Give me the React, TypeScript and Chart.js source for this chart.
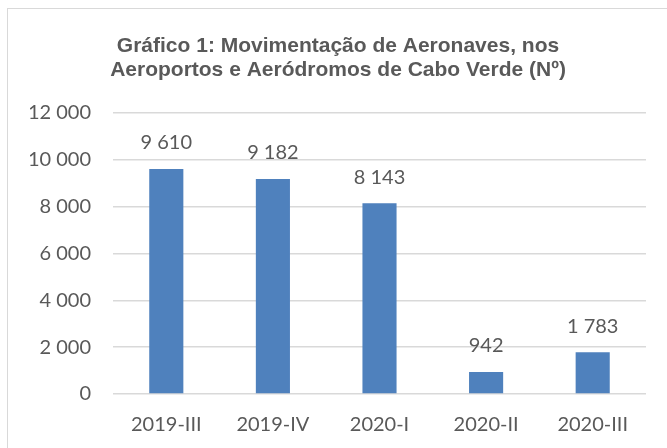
import React, { useEffect, useRef } from "react";
import { Chart, registerables } from "chart.js";

Chart.register(...registerables);

const categories: string[] = ["2019-III", "2019-IV", "2020-I", "2020-II", "2020-III"];
const movements: number[] = [9610, 9182, 8143, 942, 1783];
const titleLines: string[] = [
  "Gráfico 1: Movimentação de Aeronaves, nos",
  "Aeroportos e Aeródromos de Cabo Verde (Nº)",
];
const yMin = 0;
const yMax = 12000;
const yStep = 2000;

const fmt = (v: number): string =>
  Math.round(v)
    .toString()
    .replace(/\B(?=(\d{3})+(?!\d))/g, " ");

const TEXT = "#595959";
const FONT = "Lato, 'Open Sans', sans-serif";

const dataLabels = {
  id: "dataLabels",
  afterDatasetsDraw(chart: any) {
    const ctx = chart.ctx;
    const meta = chart.getDatasetMeta(0);
    const ds = chart.data.datasets[0];
    ctx.save();
    ctx.font = `20px ${FONT}`;
    ctx.fillStyle = TEXT;
    ctx.textAlign = "center";
    ctx.textBaseline = "middle";
    meta.data.forEach((bar: any, i: number) => {
      ctx.fillText(fmt(ds.data[i] as number), bar.x, bar.y - 26);
    });
    ctx.restore();
  },
};

export default function App() {
  const ref = useRef<HTMLCanvasElement | null>(null);

  useEffect(() => {
    if (!ref.current) return;
    const chart = new Chart(ref.current, {
      type: "bar",
      data: {
        labels: categories,
        datasets: [
          {
            data: movements,
            backgroundColor: "#4F81BD",
            borderWidth: 0,
            categoryPercentage: 1,
            barPercentage: 0.32,
          },
        ],
      },
      options: {
        animation: false,
        responsive: false,
        layout: { padding: { left: 30, right: 21, top: 0, bottom: 0 } },
        plugins: {
          legend: { display: false },
          tooltip: { enabled: false },
          title: {
            display: true,
            text: titleLines,
            color: TEXT,
            font: { family: "'Liberation Sans', Arial, sans-serif", size: 21, weight: "bold", lineHeight: "24px" },
            padding: { top: 34, bottom: 31 },
          },
        },
        scales: {
          x: {
            grid: { display: false, drawTicks: false },
            border: { display: false },
            ticks: { color: TEXT, font: { family: FONT, size: 20 }, padding: 19 },
            afterFit: (s: any) => {
              s.height = 54;
            },
          },
          y: {
            min: yMin,
            max: yMax,
            grid: { color: "#d9d9d9", lineWidth: 1.5, drawTicks: false },
            border: { display: false },
            ticks: {
              stepSize: yStep,
              color: TEXT,
              font: { family: FONT, size: 20 },
              padding: 22,
              callback: (v: any) => fmt(Number(v)),
            },
            afterFit: (s: any) => {
              s.width = 83;
            },
          },
        },
      },
      plugins: [dataLabels],
    });
    return () => chart.destroy();
  }, []);

  return (
    <div
      style={{
        position: "fixed",
        left: 0,
        top: 0,
        width: 667,
        height: 448,
        overflow: "hidden",
        background: "#fff",
      }}
    >
      <div
        style={{
          position: "absolute",
          left: 7,
          top: 8,
          width: 700,
          height: 500,
          border: "1.5px solid #d9d9d9",
          boxSizing: "border-box",
        }}
      />
      <canvas
        ref={ref}
        width={667}
        height={448}
        style={{ position: "absolute", left: 0, top: 0, width: 667, height: 448 }}
      />
    </div>
  );
}
